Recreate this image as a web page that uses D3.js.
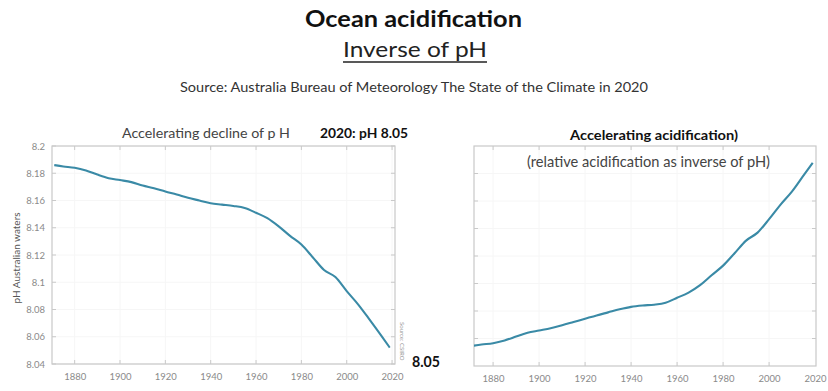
<!DOCTYPE html>
<html>
<head>
<meta charset="utf-8">
<script src="https://cdn.jsdelivr.net/npm/d3@7"></script>
<style>
  html, body { margin: 0; padding: 0; background: #fff; }
  svg { display: block; font-family: Lato, "Open Sans", sans-serif; }
</style>
</head>
<body>
<svg id="chart" width="828" height="391"></svg>
<script>
// ---- data ----
const years = [1871, 1875, 1880, 1885, 1890, 1895, 1900, 1905, 1910, 1915, 1920, 1925, 1930, 1935, 1940, 1945,
               1950, 1955, 1960, 1965, 1970, 1975, 1980, 1985, 1990, 1995, 2000, 2005, 2010, 2015, 2019];
const phValues = [8.186, 8.185, 8.184, 8.182, 8.179, 8.1764, 8.175, 8.1735, 8.171, 8.169, 8.1666, 8.1644, 8.162, 8.160, 8.158, 8.157,
                  8.156, 8.1545, 8.151, 8.147, 8.141, 8.134, 8.1277, 8.1184, 8.109, 8.1038, 8.0935, 8.0838, 8.0728, 8.0614, 8.052];
const acidValues = [0.73, 0.78, 0.83, 0.93, 1.07, 1.21, 1.29, 1.37, 1.48, 1.60, 1.72, 1.84, 1.95, 2.06, 2.15, 2.20,
                    2.23, 2.30, 2.48, 2.67, 2.94, 3.30, 3.65, 4.10, 4.56, 4.85, 5.34, 5.87, 6.35, 6.93, 7.39];
const yearTicks = [1880, 1900, 1920, 1940, 1960, 1980, 2000, 2020];
const phTicks = [8.04, 8.06, 8.08, 8.1, 8.12, 8.14, 8.16, 8.18, 8.2];
const phTickLabels = ["8.04", "8.06", "8.08", "8.1", "8.12", "8.14", "8.16", "8.18", "8.2"];
const acidTicks = [1, 2, 3, 4, 5, 6, 7];

const svg = d3.select("#chart");
const lineColor = "#3a8aa6";
const boxColor = "#c9c9c9";
const gridColor = "#f6f6f6";
const tickText = "#8a8a8a";

// ---- headings ----
svg.append("text").attr("x", 413.5).attr("y", 27).attr("text-anchor", "middle")
  .attr("font-size", 23.5).attr("font-weight", 700).attr("fill", "#111")
  .attr("textLength", 217).attr("lengthAdjust", "spacingAndGlyphs").text("Ocean acidification");
svg.append("text").attr("x", 415).attr("y", 57).attr("text-anchor", "middle")
  .attr("font-size", 22).attr("fill", "#222")
  .attr("textLength", 144).attr("lengthAdjust", "spacingAndGlyphs").text("Inverse of pH");
svg.append("line").attr("x1", 343).attr("x2", 487).attr("y1", 62).attr("y2", 62)
  .attr("stroke", "#222").attr("stroke-width", 1.3);
svg.append("text").attr("x", 414).attr("y", 92).attr("text-anchor", "middle")
  .attr("font-size", 14).attr("fill", "#333")
  .attr("textLength", 468).attr("lengthAdjust", "spacingAndGlyphs")
  .text("Source: Australia Bureau of Meteorology The State of the Climate in 2020");

// ---- panel helper ----
function panel(opts) {
  const g = svg.append("g");
  const x = d3.scaleLinear().domain(opts.xDomain).range([opts.left, opts.right]);
  const y = d3.scaleLinear().domain(opts.yDomain).range([opts.bottom, opts.top]);
  const clipId = "clip" + opts.id;
  svg.append("clipPath").attr("id", clipId).append("rect")
    .attr("x", opts.left).attr("y", opts.top)
    .attr("width", opts.right - opts.left).attr("height", opts.bottom - opts.top);

  const xt = yearTicks.filter(v => x(v) < opts.right - 1);

  // faint grid
  g.append("g").selectAll("line").data(xt).join("line")
    .attr("x1", d => x(d)).attr("x2", d => x(d)).attr("y1", opts.top).attr("y2", opts.bottom)
    .attr("stroke", gridColor);
  g.append("g").selectAll("line").data(opts.yTicks).join("line")
    .attr("x1", opts.left).attr("x2", opts.right).attr("y1", d => y(d)).attr("y2", d => y(d))
    .attr("stroke", gridColor);

  // box
  g.append("rect").attr("x", opts.left).attr("y", opts.top)
    .attr("width", opts.right - opts.left).attr("height", opts.bottom - opts.top)
    .attr("fill", "none").attr("stroke", boxColor).attr("stroke-width", 1.2);

  // axes
  const xb = d3.axisBottom(x).tickValues(yearTicks).tickSize(0).tickPadding(9).tickFormat(d3.format("d"));
  const xg = g.append("g").attr("transform", `translate(0,${opts.bottom})`).call(xb);
  xg.select(".domain").remove();
  xg.selectAll("text").attr("fill", tickText).attr("font-size", 9.5).attr("font-family", "Lato, sans-serif");

  // inward ticks on all four sides
  const tl = 4;
  g.append("g").selectAll("line").data(xt).join("line")
    .attr("x1", d => x(d)).attr("x2", d => x(d)).attr("y1", opts.bottom).attr("y2", opts.bottom - tl)
    .attr("stroke", boxColor);
  g.append("g").selectAll("line").data(xt).join("line")
    .attr("x1", d => x(d)).attr("x2", d => x(d)).attr("y1", opts.top).attr("y2", opts.top + tl)
    .attr("stroke", boxColor);
  g.append("g").selectAll("line").data(opts.yTicks).join("line")
    .attr("x1", opts.left).attr("x2", opts.left + tl).attr("y1", d => y(d)).attr("y2", d => y(d))
    .attr("stroke", boxColor);
  g.append("g").selectAll("line").data(opts.yTicks).join("line")
    .attr("x1", opts.right).attr("x2", opts.right - tl).attr("y1", d => y(d)).attr("y2", d => y(d))
    .attr("stroke", boxColor);

  if (opts.yLabels) {
    const yl = d3.axisLeft(y).tickValues(opts.yTicks).tickSize(0).tickPadding(7)
      .tickFormat((d, i) => opts.yLabels[i]);
    const yg = g.append("g").attr("transform", `translate(${opts.left},0)`).call(yl);
    yg.select(".domain").remove();
    yg.selectAll("text").attr("fill", tickText).attr("font-size", 9.5).attr("font-family", "Lato, sans-serif");
  }

  const line = d3.line().x((d, i) => x(years[i])).y(d => y(d)).curve(d3.curveMonotoneX);
  g.append("path").datum(opts.values).attr("d", line)
    .attr("clip-path", `url(#${clipId})`)
    .attr("fill", "none").attr("stroke", lineColor).attr("stroke-width", 2.1)
    .attr("stroke-linejoin", "round");
  return {x, y, g};
}

// ---- left panel: pH ----
panel({
  id: "L", left: 52, right: 395, top: 146, bottom: 364,
  xDomain: [1870, 2021.3], yDomain: [8.04, 8.2],
  yTicks: phTicks, yLabels: phTickLabels, values: phValues
});

svg.append("text").attr("transform", "translate(20,258) rotate(-90)").attr("text-anchor", "middle")
  .attr("font-size", 10).attr("fill", "#555").text("pH Australian waters");
svg.append("text").attr("x", 122).attr("y", 138).attr("font-size", 13).attr("fill", "#444")
  .attr("textLength", 168).attr("lengthAdjust", "spacingAndGlyphs").text("Accelerating decline of p H");
svg.append("text").attr("x", 320).attr("y", 138).attr("font-size", 13.5).attr("font-weight", 700).attr("fill", "#111")
  .attr("textLength", 88).attr("lengthAdjust", "spacingAndGlyphs").text("2020: pH 8.05");
svg.append("text").attr("transform", "translate(400,322) rotate(90)")
  .attr("font-size", 6).attr("fill", "#999").text("Source: CSIRO");
svg.append("text").attr("x", 412).attr("y", 367).attr("font-size", 16).attr("font-weight", 700).attr("fill", "#111")
  .attr("textLength", 28).attr("lengthAdjust", "spacingAndGlyphs").text("8.05");

// ---- right panel: relative acidification ----
panel({
  id: "R", left: 474, right: 816, top: 146, bottom: 366,
  xDomain: [1871.7, 2020.4], yDomain: [0, 8],
  yTicks: acidTicks, yLabels: null, values: acidValues
});

svg.append("text").attr("x", 570).attr("y", 140).attr("font-size", 13.5).attr("font-weight", 700).attr("fill", "#111")
  .attr("textLength", 168).attr("lengthAdjust", "spacingAndGlyphs").text("Accelerating acidification)");
svg.append("text").attr("x", 527).attr("y", 167).attr("font-size", 16).attr("fill", "#444")
  .attr("textLength", 243).attr("lengthAdjust", "spacingAndGlyphs").text("(relative acidification as inverse of pH)");
</script>
</body>
</html>
